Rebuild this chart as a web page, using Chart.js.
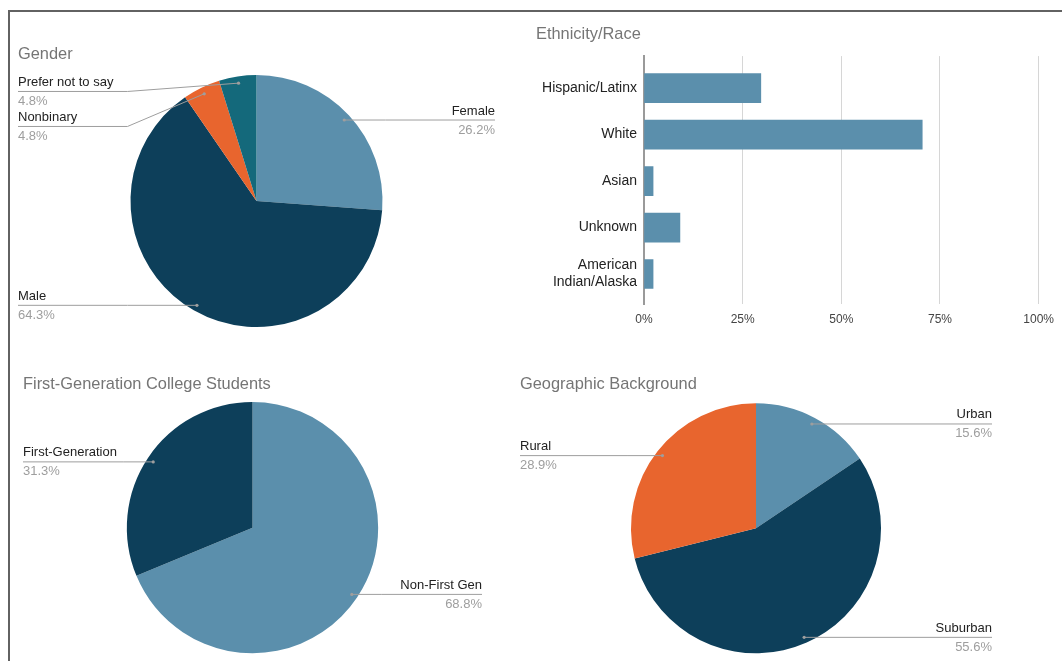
<!DOCTYPE html>
<html>
<head>
<meta charset="utf-8">
<script src="https://cdn.jsdelivr.net/npm/chart.js@4/dist/chart.umd.min.js"></script>
<style>
    body { margin: 0; background: #fff; }
    #page { position: relative; width: 1062px; height: 661px; overflow: hidden; }
    #frame { position: absolute; left: 8px; top: 10px; width: 1100px; height: 700px;
             border-top: 2px solid #626262; border-left: 2px solid #626262; }
    canvas { position: absolute; }
</style>
</head>
<body>
<div id="page">
    <div id="frame"></div>
    <canvas id="genderChart" width="478" height="329" style="left:18px;top:11px"></canvas>
    <canvas id="raceChart" width="526" height="329" style="left:536px;top:11px"></canvas>
    <canvas id="firstGenChart" width="460" height="320" style="left:23px;top:341px"></canvas>
    <canvas id="geoChart" width="473" height="320" style="left:520px;top:341px"></canvas>
</div>
<script>
// data
var genderLabels = ["Female", "Male", "Nonbinary", "Prefer not to say"];
var genderValues = [26.2, 64.3, 4.8, 4.8];

var raceLabels = ["Hispanic/Latinx", "White", "Asian", "Unknown", ["American", "Indian/Alaska"]];
var raceValues = [29.6, 70.5, 2.3, 9.1, 2.3];
var raceTicks = [0, 25, 50, 75, 100];

var firstGenLabels = ["Non-First Gen", "First-Generation"];
var firstGenValues = [68.8, 31.3];

var geoLabels = ["Urban", "Suburban", "Rural"];
var geoValues = [15.6, 55.6, 28.9];

var lightBlue = "#5b8fac";
var navy = "#0d3f5a";
var orange = "#e8652e";
var teal = "#14697b";

Chart.defaults.font.family = '"Liberation Sans", Arial, sans-serif';
Chart.defaults.animation = false;
Chart.defaults.plugins.legend.display = false;
Chart.defaults.plugins.tooltip.enabled = false;

// labels outside the pie with a leader line, google sheets style
var sliceLabels = {
    id: "sliceLabels",
    afterDraw: function (chart) {
        var ctx = chart.ctx;
        var area = chart.chartArea;
        var meta = chart.getDatasetMeta(0);
        var values = chart.data.datasets[0].data;
        var items = [];

        meta.data.forEach(function (arc, i) {
            var mid = (arc.startAngle + arc.endAngle) / 2;
            var r = arc.outerRadius * 0.95;
            items.push({
                name: chart.data.labels[i],
                value: values[i].toFixed(1) + "%",
                dotX: arc.x + Math.cos(mid) * r,
                dotY: arc.y + Math.sin(mid) * r,
                left: Math.cos(mid) < 0,
                cx: arc.x,
                radius: arc.outerRadius
            });
        });

        [true, false].forEach(function (side) {
            var list = items.filter(function (it) { return it.left === side; });
            list.sort(function (a, b) { return a.dotY - b.dotY; });
            var prev = -1000;
            list.forEach(function (it) {
                var lineY = Math.max(it.dotY, prev + 35, area.top + 16);
                prev = lineY;
                var textX = side ? area.left : area.right;
                var elbowX = side ? it.cx - it.radius - 3 : it.cx + it.radius + 3;

                ctx.save();
                ctx.strokeStyle = "#9e9e9e";
                ctx.lineWidth = 1;
                ctx.beginPath();
                ctx.moveTo(textX, lineY + 0.5);
                ctx.lineTo(elbowX, lineY + 0.5);
                ctx.lineTo(it.dotX, it.dotY + 0.5);
                ctx.stroke();

                ctx.fillStyle = "#9e9e9e";
                ctx.beginPath();
                ctx.arc(it.dotX, it.dotY + 0.5, 1.6, 0, Math.PI * 2);
                ctx.fill();

                ctx.font = '13px "Liberation Sans", Arial, sans-serif';
                ctx.textAlign = side ? "left" : "right";
                ctx.textBaseline = "alphabetic";
                ctx.fillStyle = "#222";
                ctx.fillText(it.name, textX, lineY - 5);
                ctx.fillStyle = "#9e9e9e";
                ctx.fillText(it.value, textX, lineY + 14);
                ctx.restore();
            });
        });
    }
};

function pieOptions(title, padTop, padBottom, layoutBottom) {
    return {
        responsive: false,
        layout: { padding: { left: 0, right: 1, top: 0, bottom: layoutBottom } },
        plugins: {
            title: {
                display: true,
                text: title,
                align: "start",
                color: "#757575",
                font: { size: 16.4, weight: "normal" },
                padding: { top: padTop, bottom: padBottom }
            }
        }
    };
}

new Chart(document.getElementById("genderChart"), {
    type: "pie",
    data: {
        labels: genderLabels,
        datasets: [{
            data: genderValues,
            backgroundColor: [lightBlue, navy, orange, teal],
            borderWidth: 0
        }]
    },
    options: pieOptions("Gender", 34, 10.3, 13),
    plugins: [sliceLabels]
});

new Chart(document.getElementById("firstGenChart"), {
    type: "pie",
    data: {
        labels: firstGenLabels,
        datasets: [{
            data: firstGenValues,
            backgroundColor: [lightBlue, navy],
            borderWidth: 0
        }]
    },
    options: pieOptions("First-Generation College Students", 33.2, 8.1, 7.7),
    plugins: [sliceLabels]
});

new Chart(document.getElementById("geoChart"), {
    type: "pie",
    data: {
        labels: geoLabels,
        datasets: [{
            data: geoValues,
            backgroundColor: [lightBlue, navy, orange],
            borderWidth: 0
        }]
    },
    options: pieOptions("Geographic Background", 33.2, 9.4, 7.7),
    plugins: [sliceLabels]
});

// horizontal bars, y is a linear index so the grid runs past the first/last bar
new Chart(document.getElementById("raceChart"), {
    type: "bar",
    data: {
        datasets: [{
            data: raceValues.map(function (v, i) { return { x: v, y: i }; }),
            backgroundColor: lightBlue,
            borderWidth: 0,
            barThickness: 29
        }]
    },
    options: {
        responsive: false,
        indexAxis: "y",
        layout: { padding: { left: 0, right: 17, top: 0, bottom: 0 } },
        plugins: {
            title: {
                display: true,
                text: "Ethnicity/Race",
                align: "start",
                color: "#757575",
                font: { size: 16.4, weight: "normal" },
                padding: { top: 13.8, bottom: 11.6 }
            }
        },
        scales: {
            x: {
                type: "linear",
                position: "bottom",
                min: 0,
                max: 100,
                afterBuildTicks: function (axis) {
                    axis.ticks = raceTicks.map(function (v) { return { value: v }; });
                },
                afterFit: function (axis) { axis.height = 36; },
                grid: { color: "#d6d6d6", drawTicks: false },
                border: { display: false },
                ticks: {
                    padding: 8,
                    color: "#444",
                    font: { size: 12 },
                    callback: function (v) { return v + "%"; }
                }
            },
            y: {
                type: "linear",
                reverse: true,
                offset: false,
                min: -0.69,
                max: 4.645,
                afterBuildTicks: function (axis) {
                    axis.ticks = raceLabels.map(function (l, i) { return { value: i }; });
                },
                afterFit: function (axis) { axis.width = 108; },
                grid: { display: false, drawTicks: false },
                border: { color: "#9a9a9a", width: 2 },
                ticks: {
                    padding: 7,
                    color: "#222",
                    font: { size: 14 },
                    callback: function (v) { return raceLabels[v]; }
                }
            }
        }
    }
});
</script>
</body>
</html>
